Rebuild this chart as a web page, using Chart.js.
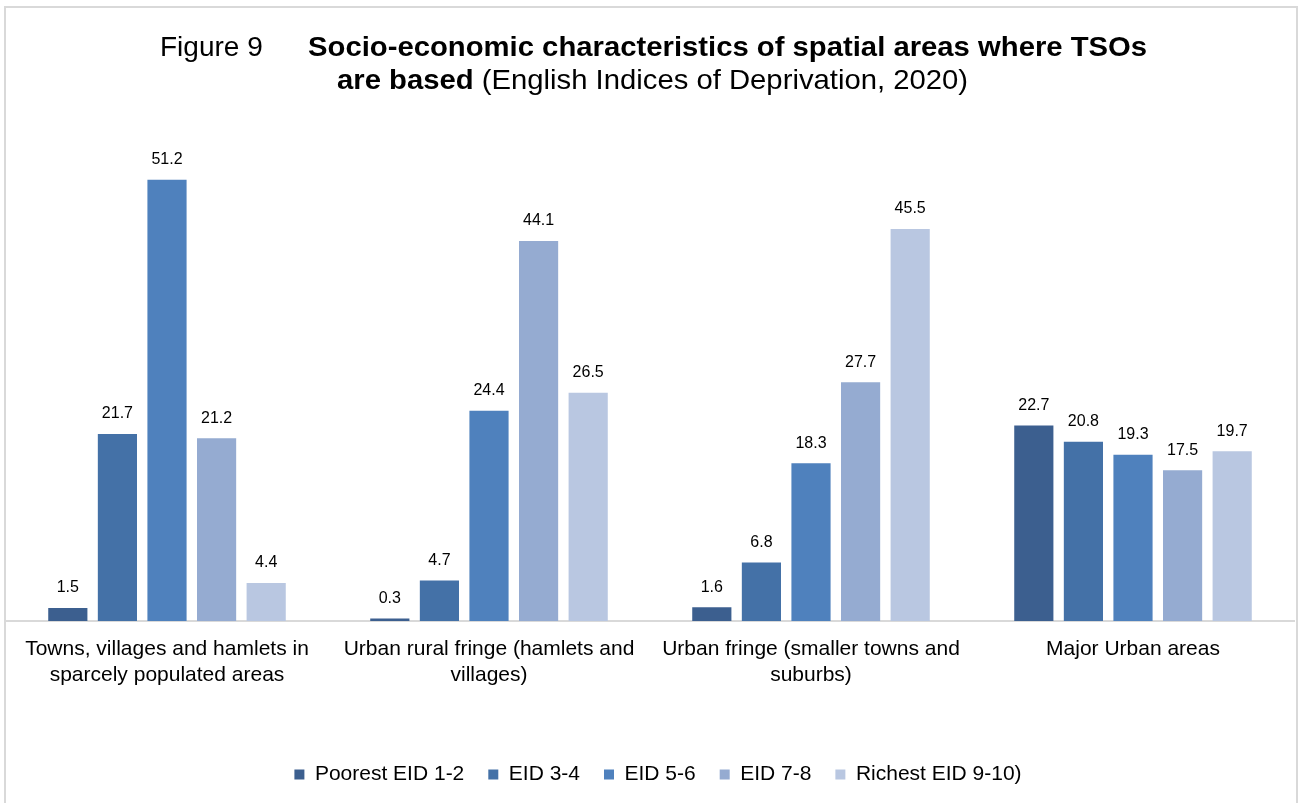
<!DOCTYPE html>
<html>
<head>
<meta charset="utf-8">
<script src="https://cdn.jsdelivr.net/npm/chart.js@4/dist/chart.umd.min.js"></script>
<style>
  html, body { margin: 0; padding: 0; background: #ffffff; }
  #wrap { width: 1301px; height: 803px; position: relative; }
</style>
</head>
<body>
<div id="wrap"><canvas id="chart" width="1301" height="803"></canvas></div>
<script>
// Spatial area categories (x axis)
const categories = [
  ["Towns, villages and hamlets in", "sparcely populated areas"],
  ["Urban rural fringe (hamlets and", "villages)"],
  ["Urban fringe (smaller towns and", "suburbs)"],
  ["Major Urban areas"]
];

// Deprivation band series names
const seriesNames = ["Poorest EID 1-2", "EID 3-4", "EID 5-6", "EID 7-8", "Richest EID 9-10)"];

// Percentage of TSOs in each deprivation band, per area type
const poorest12 = [1.5, 0.3, 1.6, 22.7];
const eid34     = [21.7, 4.7, 6.8, 20.8];
const eid56     = [51.2, 24.4, 18.3, 19.3];
const eid78     = [21.2, 44.1, 27.7, 17.5];
const richest910 = [4.4, 26.5, 45.5, 19.7];

const seriesValues = [poorest12, eid34, eid56, eid78, richest910];
const seriesColors = ["#3c5f8f", "#4471a7", "#4f81bd", "#95abd1", "#b9c7e1"];

const FONT = '"Liberation Sans", Arial, Helvetica, sans-serif';

// Frame lines and the two-line mixed-weight heading
const framePlugin = {
  id: 'frame',
  afterLayout(chart) {
    // nudge the legend row slightly right of centre
    if (chart.legend) {
      chart.legend.left += 8;
      chart.legend.right += 8;
    }
  },
  beforeDraw(chart) {
    const ctx = chart.ctx;
    ctx.save();
    ctx.fillStyle = '#ffffff';
    ctx.fillRect(0, 0, chart.width, chart.height);
    ctx.strokeStyle = '#d9d9d9';
    ctx.lineWidth = 2;
    ctx.beginPath();
    ctx.moveTo(5, chart.height);
    ctx.lineTo(5, 7);
    ctx.lineTo(1297, 7);
    ctx.lineTo(1297, chart.height);
    ctx.stroke();
    ctx.restore();
  },
  afterDraw(chart) {
    const ctx = chart.ctx;
    ctx.save();
    ctx.fillStyle = '#000000';
    ctx.textBaseline = 'alphabetic';
    ctx.textAlign = 'left';
    const stretch = 1.045;
    const runs = (x, y, parts) => {
      let cx = x;
      parts.forEach(([text, bold]) => {
        ctx.font = (bold ? 'bold ' : '') + '28px ' + FONT;
        ctx.save();
        ctx.translate(cx, y);
        ctx.scale(stretch, 1);
        ctx.fillText(text, 0, 0);
        ctx.restore();
        cx += ctx.measureText(text).width * stretch;
      });
    };
    ctx.font = '28px ' + FONT;
    ctx.fillText('Figure 9', 160, 56);
    runs(308, 56, [['Socio-economic characteristics of spatial areas where TSOs', true]]);
    runs(337, 89, [['are based', true], [' (English Indices of Deprivation, 2020)', false]]);
    ctx.restore();
  }
};

// Value labels above each bar
const valueLabels = {
  id: 'valueLabels',
  afterDatasetsDraw(chart) {
    const ctx = chart.ctx;
    ctx.save();
    ctx.font = '16px ' + FONT;
    ctx.fillStyle = '#000000';
    ctx.textAlign = 'center';
    ctx.textBaseline = 'middle';
    chart.data.datasets.forEach((ds, i) => {
      chart.getDatasetMeta(i).data.forEach((bar, j) => {
        ctx.fillText(ds.data[j].toFixed(1), bar.x, bar.y - 20);
      });
    });
    ctx.restore();
  }
};

new Chart(document.getElementById('chart'), {
  type: 'bar',
  data: {
    labels: categories,
    datasets: seriesNames.map((name, i) => ({
      label: name,
      data: seriesValues[i],
      backgroundColor: seriesColors[i],
      borderWidth: 0,
      categoryPercentage: 0.77,
      barPercentage: 0.79
    }))
  },
  options: {
    responsive: false,
    animation: false,
    layout: { padding: { top: 104, left: 6, right: 7, bottom: 8 } },
    scales: {
      y: { display: false, min: 0, max: 60 },
      x: {
        grid: { display: false, drawTicks: false },
        border: { color: '#d9d9d9', width: 2 },
        ticks: {
          color: '#000000',
          font: { family: FONT, size: 21, lineHeight: 1.2 },
          padding: 16,
          maxRotation: 0,
          autoSkip: false
        },
        afterFit(scale) { scale.height = 119; }
      }
    },
    plugins: {
      title: { display: false },
      tooltip: { enabled: false },
      legend: {
        position: 'bottom',
        labels: {
          color: '#000000',
          font: { family: FONT, size: 21 },
          boxWidth: 10,
          boxHeight: 10,
          padding: 24
        }
      }
    }
  },
  plugins: [framePlugin, valueLabels]
});
</script>
</body>
</html>
